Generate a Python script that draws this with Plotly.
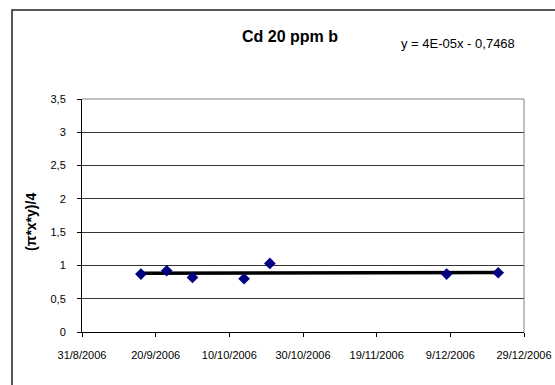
import numpy as np
import pandas as pd
import plotly.graph_objects as go

# Data
dates = ["2006-09-16", "2006-09-23", "2006-09-30", "2006-10-14",
         "2006-10-21", "2006-12-08", "2006-12-22"]
values = [0.87, 0.92, 0.82, 0.80, 1.03, 0.87, 0.89]
y_ticks = [0, 0.5, 1, 1.5, 2, 2.5, 3, 3.5]
title_text = "Cd 20 ppm b"
equation_text = "y = 4E-05x - 0,7468"
y_title = "(π*x*y)/4"

# Linear trendline (as Excel draws it), fitted to the data
d = pd.to_datetime(dates)
xn = (d - d[0]).days.values.astype(float)
slope, intercept = np.polyfit(xn, values, 1)
trend_x = [dates[0], dates[-1]]
trend_y = [intercept, intercept + slope * xn[-1]]

FONT = "Liberation Sans, Arial, sans-serif"
W, H = 555, 385
l, r, t, b = 82, 31, 99, 53
pw, ph = W - l - r, H - t - b


def px_x(v):
    return (v - l) / pw


def px_y(v):
    return (H - b - v) / ph


fig = go.Figure()
fig.add_trace(go.Scatter(x=trend_x, y=trend_y, mode="lines",
                         line=dict(color="black", width=3.5), showlegend=False))
fig.add_trace(go.Scatter(x=dates, y=values, mode="markers",
                         marker=dict(symbol="diamond", size=9, color="#000080",
                                     line=dict(width=0)),
                         showlegend=False))

fig.update_layout(
    width=W, height=H,
    margin=dict(l=l, r=r, t=t, b=b),
    paper_bgcolor="white", plot_bgcolor="white",
    separators=",.",
    font=dict(family=FONT, size=11, color="black"),
    xaxis=dict(type="date", range=["2006-08-31", "2006-12-29"],
               tick0="2006-08-31", dtick=20 * 86400000,
               tickformat="%-d/%-m/%Y", showgrid=False,
               showline=True, linecolor="black", linewidth=1,
               ticks="outside", ticklen=4, tickcolor="black",
               ticklabelstandoff=9, automargin=False,
               zeroline=False, tickfont=dict(family=FONT, size=11)),
    yaxis=dict(range=[0, 3.5], tickvals=y_ticks,
               showgrid=True, gridcolor="#333333", gridwidth=1,
               showline=True, linecolor="black", linewidth=1,
               ticks="outside", ticklen=4, tickcolor="black",
               ticklabelstandoff=9, automargin=False,
               zeroline=False, tickfont=dict(family=FONT, size=11)),
    annotations=[
        dict(text="<b>" + title_text + "</b>", x=px_x(290), y=px_y(37),
             xref="paper", yref="paper", xanchor="center", yanchor="middle",
             showarrow=False, font=dict(family=FONT, size=16)),
        dict(text=equation_text, x=px_x(458), y=px_y(43),
             xref="paper", yref="paper", xanchor="center", yanchor="middle",
             showarrow=False, font=dict(family=FONT, size=13)),
        dict(text="<b>" + y_title + "</b>", x=px_x(31), y=px_y(222),
             xref="paper", yref="paper", xanchor="center", yanchor="middle",
             textangle=-90, showarrow=False, font=dict(family=FONT, size=14)),
    ],
    shapes=[
        dict(type="rect", xref="paper", yref="paper",
             x0=px_x(12), x1=px_x(600), y0=px_y(430), y1=px_y(10),
             line=dict(color="#222222", width=1.5), layer="below"),
        dict(type="line", xref="paper", yref="paper", x0=0, x1=1, y0=1, y1=1,
             line=dict(color="#808080", width=1)),
        dict(type="line", xref="paper", yref="paper", x0=1, x1=1, y0=0, y1=1,
             line=dict(color="#808080", width=1)),
    ],
)

fig.write_html("out.html")
